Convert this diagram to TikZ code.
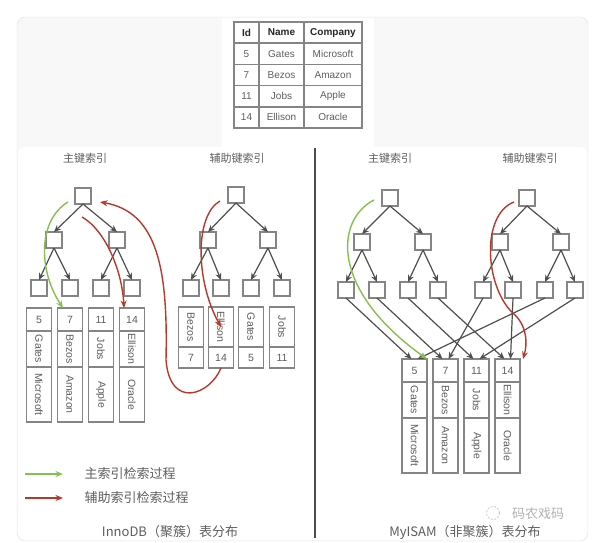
\documentclass[tikz,border=0pt]{standalone}
\usepackage{fontspec}
\setmainfont{Liberation Sans}
\newfontfamily\cjk{Noto Sans CJK SC}
\usetikzlibrary{
  arrows.meta,
  positioning,
}
\definecolor{boxGray}{HTML}{858585}
\definecolor{lineGray}{HTML}{4F4F4F}
\definecolor{textGray}{HTML}{5E5E5E}
\definecolor{pathGreen}{HTML}{86C14F}
\definecolor{pathRed}{HTML}{B8392C}
\definecolor{panelBg}{HTML}{F8F8F8}
\definecolor{panelEdge}{HTML}{E2E2E2}
\tikzset{
  keybox/.style={
    rectangle, draw=boxGray, line width=1.6pt, fill=white,
    minimum size=16pt, inner sep=0pt, outer sep=0pt,
  },
  cell/.style={
    rectangle, draw=boxGray, line width=1.3pt, fill=white,
    inner sep=0pt, outer sep=0pt, text=textGray,
    font=\fontsize{10.5}{12.5}\selectfont,
  },
  idcell/.style={cell, minimum width=25pt, minimum height=23pt},
  namecell/.style={cell, minimum width=25pt, minimum height=36pt},
  compcell/.style={cell, minimum width=25pt, minimum height=55pt},
  sidxcell/.style={cell, minimum width=25pt, minimum height=40pt},
  sidcell/.style={cell, minimum width=25pt, minimum height=21pt},
  tcell/.style={cell, minimum height=21.2pt, line width=1.4pt,
    font=\fontsize{10}{12}\selectfont},
  thead/.style={tcell, text=black!85, font=\fontsize{10}{12}\selectfont\bfseries},
  treeArrow/.style={
    -{Stealth[length=7pt,width=6pt]}, line width=1.2pt, draw=lineGray,
  },
  greenPath/.style={
    -{Stealth[length=7.5pt,width=6pt]}, line width=1.4pt, draw=pathGreen,
  },
  redPath/.style={
    -{Stealth[length=7.5pt,width=6pt]}, line width=1.4pt, draw=pathRed,
  },
  sectionLabel/.style={font=\cjk\fontsize{11}{13}\selectfont, text=textGray},
  captionLabel/.style={font=\cjk\fontsize{13}{15}\selectfont, text=textGray},
}

\begin{document}
\begin{tikzpicture}[x=1pt, y=-1pt]
\useasboundingbox (0,0) rectangle (602,543);

% panel
\draw[panelEdge, fill=panelBg, rounded corners=8pt] (17,17) rectangle (588,541);
\fill[white, rounded corners=7pt] (18,147) rectangle (587,540);
\fill[white] (222,18) rectangle (374,147);

% source table
\node[thead, minimum width=25pt] (tId) at (246.5,32.6) {Id};
\node[thead, minimum width=45pt] (tName) at (281.5,32.6) {Name};
\node[thead, minimum width=58pt] (tComp) at (333,32.6) {Company};
\node[tcell, minimum width=25pt] (tId5) at (246.5,53.8) {5};
\node[tcell, minimum width=45pt] (tName5) at (281.5,53.8) {Gates};
\node[tcell, minimum width=58pt] (tComp5) at (333,53.8) {Microsoft};
\node[tcell, minimum width=25pt] (tId7) at (246.5,75) {7};
\node[tcell, minimum width=45pt] (tName7) at (281.5,75) {Bezos};
\node[tcell, minimum width=58pt] (tComp7) at (333,75) {Amazon};
\node[tcell, minimum width=25pt] (tId11) at (246.5,96.2) {11};
\node[tcell, minimum width=45pt] (tName11) at (281.5,96.2) {Jobs};
\node[tcell, minimum width=58pt] (tComp11) at (333,96.2) {Apple};
\node[tcell, minimum width=25pt] (tId14) at (246.5,117.4) {14};
\node[tcell, minimum width=45pt] (tName14) at (281.5,117.4) {Ellison};
\node[tcell, minimum width=58pt] (tComp14) at (333,117.4) {Oracle};

% divider
\draw[line width=1.6pt, black!70] (315,148) -- (315,538);

% section titles
\node[sectionLabel] (innoPk) at (85,158) {主键索引};
\node[sectionLabel] (innoSk) at (237,158) {辅助键索引};
\node[sectionLabel] (myPk) at (390,158) {主键索引};
\node[sectionLabel] (mySk) at (530,158) {辅助键索引};

% InnoDB primary tree
\node[keybox] (p1r) at (83,196) {};
\node[keybox] (p1a) at (54,240) {};
\node[keybox] (p1b) at (117,240) {};
\node[keybox] (p1l1) at (39,288) {};
\node[keybox] (p1l2) at (70,288) {};
\node[keybox] (p1l3) at (101,288) {};
\node[keybox] (p1l4) at (132,288) {};
\draw[treeArrow] (p1r.south) -- (p1a.north);
\draw[treeArrow] (p1r.south) -- (p1b.north);
\draw[treeArrow] (p1a.south) -- (p1l1.north);
\draw[treeArrow] (p1a.south) -- (p1l2.north);
\draw[treeArrow] (p1b.south) -- (p1l3.north);
\draw[treeArrow] (p1b.south) -- (p1l4.north);

% InnoDB clustered rows
\node[idcell, below=12pt of p1l1] (p1k5) {5};
\node[namecell, below=0pt of p1k5] (p1n5) {\rotatebox{-90}{Gates}};
\node[compcell, below=0pt of p1n5] (p1c5) {\rotatebox{-90}{Microsoft}};
\node[idcell, below=12pt of p1l2] (p1k7) {7};
\node[namecell, below=0pt of p1k7] (p1n7) {\rotatebox{-90}{Bezos}};
\node[compcell, below=0pt of p1n7] (p1c7) {\rotatebox{-90}{Amazon}};
\node[idcell, below=12pt of p1l3] (p1k11) {11};
\node[namecell, below=0pt of p1k11] (p1n11) {\rotatebox{-90}{Jobs}};
\node[compcell, below=0pt of p1n11] (p1c11) {\rotatebox{-90}{Apple}};
\node[idcell, below=12pt of p1l4] (p1k14) {14};
\node[namecell, below=0pt of p1k14] (p1n14) {\rotatebox{-90}{Ellison}};
\node[compcell, below=0pt of p1n14] (p1c14) {\rotatebox{-90}{Oracle}};

% InnoDB secondary tree
\node[keybox] (s1r) at (236,195) {};
\node[keybox] (s1a) at (208,240) {};
\node[keybox] (s1b) at (268,240) {};
\node[keybox] (s1l1) at (191,288) {};
\node[keybox] (s1l2) at (221,288) {};
\node[keybox] (s1l3) at (251,288) {};
\node[keybox] (s1l4) at (282,288) {};
\draw[treeArrow] (s1r.south) -- (s1a.north);
\draw[treeArrow] (s1r.south) -- (s1b.north);
\draw[treeArrow] (s1a.south) -- (s1l1.north);
\draw[treeArrow] (s1a.south) -- (s1l2.north);
\draw[treeArrow] (s1b.south) -- (s1l3.north);
\draw[treeArrow] (s1b.south) -- (s1l4.north);

\node[sidxcell, below=11pt of s1l1] (s1n7) {\rotatebox{-90}{Bezos}};
\node[sidcell, below=0pt of s1n7] (s1k7) {7};
\node[sidxcell, below=11pt of s1l2] (s1n14) {\rotatebox{-90}{Ellison}};
\node[sidcell, below=0pt of s1n14] (s1k14) {14};
\node[sidxcell, below=11pt of s1l3] (s1n5) {\rotatebox{-90}{Gates}};
\node[sidcell, below=0pt of s1n5] (s1k5) {5};
\node[sidxcell, below=11pt of s1l4] (s1n11) {\rotatebox{-90}{Jobs}};
\node[sidcell, below=0pt of s1n11] (s1k11) {11};

% InnoDB lookup paths
\draw[greenPath] ([xshift=-7pt,yshift=-6pt]p1r.west)
  .. controls (38,220) and (38,270) .. ([xshift=-7pt]p1k7.north);
\draw[redPath] ([xshift=-8pt,yshift=-6pt]s1r.west)
  .. controls (195,215) and (195,280) .. (s1n14.center);
\draw[redPath] (s1k14.south)
  .. controls (210,395) and (170,410) .. (166,360)
  .. controls (168,270) and (158,212) .. ([xshift=9pt,yshift=-6pt]p1r.east);
\draw[redPath] ([xshift=-1pt,yshift=-13pt]p1r.south)
  .. controls (105,230) and (122,270) .. ([xshift=-8pt]p1k14.north);

% MyISAM primary tree
\node[keybox] (p2r) at (390,198) {};
\node[keybox] (p2a) at (362,242) {};
\node[keybox] (p2b) at (423,242) {};
\node[keybox] (p2l1) at (346,290) {};
\node[keybox] (p2l2) at (377,290) {};
\node[keybox] (p2l3) at (408,290) {};
\node[keybox] (p2l4) at (438,290) {};
\draw[treeArrow] (p2r.south) -- (p2a.north);
\draw[treeArrow] (p2r.south) -- (p2b.north);
\draw[treeArrow] (p2a.south) -- (p2l1.north);
\draw[treeArrow] (p2a.south) -- (p2l2.north);
\draw[treeArrow] (p2b.south) -- (p2l3.north);
\draw[treeArrow] (p2b.south) -- (p2l4.north);

% MyISAM secondary tree
\node[keybox] (s2r) at (527,198) {};
\node[keybox] (s2a) at (500,242) {};
\node[keybox] (s2b) at (561,242) {};
\node[keybox] (s2l1) at (483,290) {};
\node[keybox] (s2l2) at (513,290) {};
\node[keybox] (s2l3) at (545,290) {};
\node[keybox] (s2l4) at (575,290) {};
\draw[treeArrow] (s2r.south) -- (s2a.north);
\draw[treeArrow] (s2r.south) -- (s2b.north);
\draw[treeArrow] (s2a.south) -- (s2l1.north);
\draw[treeArrow] (s2a.south) -- (s2l2.north);
\draw[treeArrow] (s2b.south) -- (s2l3.north);
\draw[treeArrow] (s2b.south) -- (s2l4.north);

% MyISAM data rows
\node[idcell] (m5) at (414.5,370.5) {5};
\node[namecell, below=0pt of m5] (mn5) {\rotatebox{-90}{Gates}};
\node[compcell, below=0pt of mn5] (mc5) {\rotatebox{-90}{Microsoft}};
\node[idcell, right=6pt of m5] (m7) {7};
\node[namecell, below=0pt of m7] (mn7) {\rotatebox{-90}{Bezos}};
\node[compcell, below=0pt of mn7] (mc7) {\rotatebox{-90}{Amazon}};
\node[idcell, right=6pt of m7] (m11) {11};
\node[namecell, below=0pt of m11] (mn11) {\rotatebox{-90}{Jobs}};
\node[compcell, below=0pt of mn11] (mc11) {\rotatebox{-90}{Apple}};
\node[idcell, right=6pt of m11] (m14) {14};
\node[namecell, below=0pt of m14] (mn14) {\rotatebox{-90}{Ellison}};
\node[compcell, below=0pt of mn14] (mc14) {\rotatebox{-90}{Oracle}};

\draw[treeArrow] (p2l1.south) -- ([xshift=-3pt]m5.north);
\draw[treeArrow] (p2l2.south) -- ([xshift=-3pt]m7.north);
\draw[treeArrow] (p2l3.south) -- ([xshift=-3pt]m11.north);
\draw[treeArrow] (p2l4.south) -- ([xshift=-3pt]m14.north);
\draw[treeArrow] (s2l1.south) -- ([xshift=3pt]m7.north);
\draw[treeArrow] (s2l2.south) -- ([xshift=3pt]m14.north);
\draw[treeArrow] (s2l3.south) -- ([xshift=3pt]m5.north);
\draw[treeArrow] (s2l4.south) -- ([xshift=3pt]m11.north);

% MyISAM lookup paths
\draw[greenPath] ([xshift=-8pt,yshift=-2pt]p2r.west)
  .. controls (335,220) and (330,290) .. (m5.north east);
\draw[redPath] ([xshift=-5pt,yshift=-4pt]s2r.west)
  .. controls (480,215) and (485,290) .. (515,315)
  .. controls (528,328) and (527,345) .. ([xshift=3pt]m14.north east);

% legend
\coordinate (lgG0) at (25,474);
\coordinate (lgG1) at (63,474);
\coordinate (lgR0) at (25,498);
\coordinate (lgR1) at (63,498);
\draw[greenPath] (lgG0) -- (lgG1);
\draw[redPath] (lgR0) -- (lgR1);
\node[captionLabel, anchor=west] (lgGtxt) at (81,474) {主索引检索过程};
\node[captionLabel, anchor=west] (lgRtxt) at (81,498) {辅助索引检索过程};

% captions
\node[captionLabel] (innoCap) at (170,532) {InnoDB（聚簇）表分布};
\node[captionLabel] (myCap) at (465,532) {MyISAM（非聚簇）表分布};

% watermark
\draw[gray!45, line width=0.8pt, dash pattern=on 2pt off 1.5pt] (493,513) circle (6.5);
\node[captionLabel, text=gray!60] (wmark) at (538,514) {码农戏码};

\end{tikzpicture}
\end{document}
